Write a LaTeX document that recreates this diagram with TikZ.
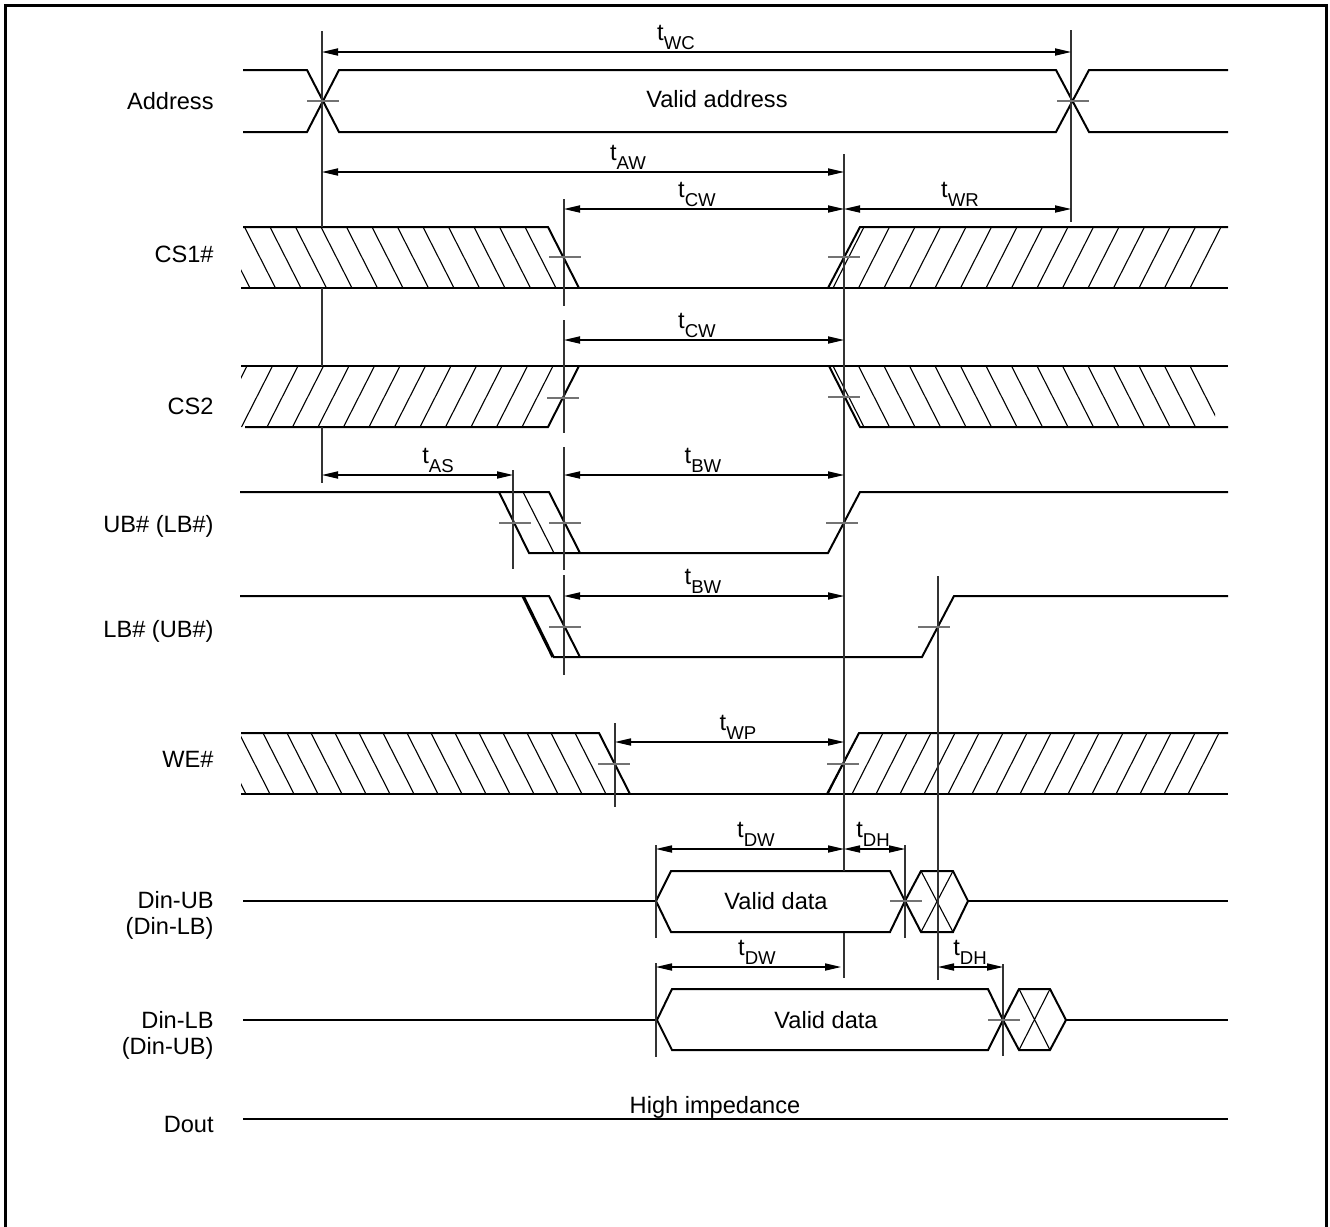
\documentclass[tikz,border=0pt]{standalone}
\usepackage{fontspec}
\setmainfont{Liberation Sans}
\usetikzlibrary{arrows.meta}
\tikzset{
  sig/.style={draw=black, line width=1pt, line join=miter},
  hatch/.style={draw=black, line width=0.55pt},
  guide/.style={draw=black!80, line width=0.55pt},
  crosstick/.style={draw=black!55, line width=0.6pt},
  timearrow/.style={{Triangle[length=8pt,width=3.6pt]}-{Triangle[length=8pt,width=3.6pt]}, draw=black, line width=0.55pt},
  tlabel/.style={anchor=base, inner sep=0pt, font=\fontsize{11.8}{13}\selectfont},
  siglabel/.style={anchor=base east, inner sep=0pt, font=\fontsize{11.8}{13}\selectfont},
  twolabel/.style={anchor=east, inner sep=0pt, align=right, font=\fontsize{11.8}{13}\selectfont},
  valtext/.style={anchor=base, inner sep=0pt, font=\fontsize{11.8}{13}\selectfont}
}
\newcommand\tsub[1]{t\raisebox{-4.5pt}{\fontsize{9.3}{9.5}\selectfont #1}}

\begin{document}
\begin{tikzpicture}[x=0.5pt, y=-0.5pt]
  \useasboundingbox (0,0) rectangle (1330,1227);
  % outer frame (bottom edge cut off)
  \draw[line width=1.5pt] (5,1240) -- (5,5) -- (1326.5,5) -- (1326.5,1240);

  % signal names
  \node[siglabel] (lAddr) at (214,109) {Address};
  \node[siglabel] (lCSa) at (214,262) {CS1\#};
  \node[siglabel] (lCSb) at (214,414) {CS2};
  \node[siglabel] (lUB) at (214,532) {UB\# (LB\#)};
  \node[siglabel] (lLB) at (214,637) {LB\# (UB\#)};
  \node[siglabel] (lWE) at (214,767) {WE\#};
  \node[twolabel] (lDinU) at (214,915) {Din-UB\\(Din-LB)};
  \node[twolabel] (lDinL) at (214,1035) {Din-LB\\(Din-UB)};
  \node[siglabel] (lDout) at (214,1132) {Dout};

  % Address bus
  \draw[sig] (243,70) -- (307,70) -- (339,132) -- (1056,132) -- (1089,70) -- (1228,70);
  \draw[sig] (243,132) -- (307,132) -- (339,70) -- (1056,70) -- (1089,132) -- (1228,132);
  \node[valtext] (vAddr) at (717,107) {Valid address};

  % CS1#
  \begin{scope}
    \clip (241,227) -- (548,227) -- (579,288) -- (241,288) -- cycle;
    \foreach \k in {0,...,13} \draw[hatch] ({525-25.5*\k},227) -- ++(31,61);
  \end{scope}
  \begin{scope}
    \clip (828,288) -- (860,227) -- (1221,227) -- (1221,288) -- cycle;
    \foreach \k in {0,...,14} \draw[hatch] ({1221-25.5*\k},227) -- ++(-31,61);
  \end{scope}
  \draw[sig] (243,227) -- (548,227) -- (579,288);
  \draw[sig] (241,288) -- (1228,288);
  \draw[sig] (828,288) -- (860,227) -- (1228,227);

  % CS2
  \begin{scope}
    \clip (241,366) -- (579,366) -- (548,427) -- (241,427) -- cycle;
    \foreach \k in {0,...,13} \draw[hatch] ({553-25.5*\k},366) -- ++(-31,61);
  \end{scope}
  \begin{scope}
    \clip (829,366) -- (1215,366) -- (1215,427) -- (860,427) -- cycle;
    \foreach \k in {0,...,14} \draw[hatch] ({1190-25.5*\k},366) -- ++(31,61);
  \end{scope}
  \draw[sig] (241,366) -- (1228,366);
  \draw[sig] (245,427) -- (548,427) -- (579,366);
  \draw[sig] (829,366) -- (860,427) -- (1228,427);

  % UB# (LB#)
  \draw[sig] (240,492) -- (549,492) -- (580,553);
  \draw[sig] (499,492) -- (529,553) -- (828,553) -- (860,492) -- (1228,492);
  \draw[hatch] (523,492) -- (554,553);

  % LB# (UB#)
  \draw[sig] (240,596) -- (549,596) -- (580,657);
  \draw[sig, line width=1.6pt] (523,596) -- (553,657);
  \draw[sig] (553,657) -- (922,657) -- (954,596) -- (1228,596);

  % WE#
  \begin{scope}
    \clip (241,733) -- (599,733) -- (630,794) -- (241,794) -- cycle;
    \foreach \k in {0,...,15} \draw[hatch] ({575-24*\k},733) -- ++(31,61);
  \end{scope}
  \begin{scope}
    \clip (827,794) -- (859,733) -- (1221,733) -- (1221,794) -- cycle;
    \foreach \k in {0,...,15} \draw[hatch] ({1219-24*\k},733) -- ++(-31,61);
  \end{scope}
  \draw[sig] (241,733) -- (599,733) -- (630,794);
  \draw[sig] (241,794) -- (1228,794);
  \draw[sig] (827,794) -- (859,733) -- (1228,733);

  % Din-UB (Din-LB)
  \draw[sig] (243,901) -- (656,901);
  \draw[sig] (656,901) -- (671,871) -- (890,871) -- (905,901) -- (890,932) -- (671,932) -- cycle;
  \draw[sig] (905,901) -- (921,871) -- (953,871) -- (968,901) -- (953,932) -- (921,932) -- cycle;
  \draw[hatch] (921,871) -- (953,932) (953,871) -- (921,932);
  \draw[sig] (968,901) -- (1228,901);
  \node[valtext] (vDinU) at (776,909) {Valid data};

  % Din-LB (Din-UB)
  \draw[sig] (243,1020) -- (657,1020);
  \draw[sig] (657,1020) -- (672,989) -- (988,989) -- (1003,1020) -- (988,1050) -- (672,1050) -- cycle;
  \draw[sig] (1003,1020) -- (1019,989) -- (1050,989) -- (1066,1020) -- (1050,1050) -- (1019,1050) -- cycle;
  \draw[hatch] (1019,989) -- (1050,1050) (1050,989) -- (1019,1050);
  \draw[sig] (1066,1020) -- (1228,1020);
  \node[valtext] (vDinL) at (826,1028) {Valid data};

  % Dout
  \draw[sig] (243,1119) -- (1228,1119);
  \node[valtext] (vDout) at (715,1113) {High impedance};

  % reference lines
  \draw[guide] (322,31) -- (322,227) (322,288) -- (322,366) (322,427) -- (322,483);
  \draw[guide] (1071,30) -- (1071,222);
  \draw[guide] (564,199) -- (564,306) (564,320) -- (564,433) (564,447) -- (564,570) (564,575) -- (564,675);
  \draw[guide] (844,154) -- (844,871) (844,933) -- (844,978);
  \draw[guide] (513,470) -- (513,569);
  \draw[guide] (615,723) -- (615,807);
  \draw[guide] (656,845) -- (656,938) (656,963) -- (656,1057);
  \draw[guide] (905,845) -- (905,938);
  \draw[guide] (938,576) -- (938,980);
  \draw[guide] (1003,964) -- (1003,1056);

  % crossing ticks
  \foreach \x/\y in {323/101, 1073/101, 565/257, 844/257, 563/398, 844/397,
                     515/523, 565/523, 842/523, 565/627, 934/627,
                     614/764, 843/764, 906/901, 1004/1020}
    \draw[crosstick] (\x-16,\y) -- (\x+16,\y);

  % timing arrows
  \coordinate (wcA) at (322,52);  \coordinate (wcB) at (1071,52);
  \coordinate (awA) at (322,172); \coordinate (awB) at (844,172);
  \coordinate (cwA) at (564,209); \coordinate (cwB) at (844,209);
  \coordinate (wrA) at (844,209); \coordinate (wrB) at (1071,209);
  \coordinate (cxA) at (564,340); \coordinate (cxB) at (844,340);
  \coordinate (asA) at (322,475); \coordinate (asB) at (513,475);
  \coordinate (bwA) at (564,475); \coordinate (bwB) at (844,475);
  \coordinate (bxA) at (564,596); \coordinate (bxB) at (844,596);
  \coordinate (wpA) at (615,742); \coordinate (wpB) at (844,742);
  \coordinate (dwA) at (656,849); \coordinate (dwB) at (844,849);
  \coordinate (dhA) at (844,849); \coordinate (dhB) at (905,849);
  \coordinate (dxA) at (656,967); \coordinate (dxB) at (841,967);
  \coordinate (hxA) at (938,967); \coordinate (hxB) at (1003,967);
  \foreach \n in {wc,aw,cw,wr,cx,as,bw,bx,wp,dw,dh,dx,hx}
    \draw[timearrow] (\n A) -- (\n B);

  \node[tlabel] (twc) at (676,40) {\tsub{WC}};
  \node[tlabel] (taw) at (628,160) {\tsub{AW}};
  \node[tlabel] (tcw) at (697,197) {\tsub{CW}};
  \node[tlabel] (twr) at (960,197) {\tsub{WR}};
  \node[tlabel] (tcx) at (697,328) {\tsub{CW}};
  \node[tlabel] (tas) at (438,463) {\tsub{AS}};
  \node[tlabel] (tbw) at (703,463) {\tsub{BW}};
  \node[tlabel] (tbx) at (703,584) {\tsub{BW}};
  \node[tlabel] (twp) at (738,730) {\tsub{WP}};
  \node[tlabel] (tdw) at (756,837) {\tsub{DW}};
  \node[tlabel] (tdh) at (873,837) {\tsub{DH}};
  \node[tlabel] (tdx) at (757,955) {\tsub{DW}};
  \node[tlabel] (thx) at (970,955) {\tsub{DH}};
\end{tikzpicture}
\end{document}
